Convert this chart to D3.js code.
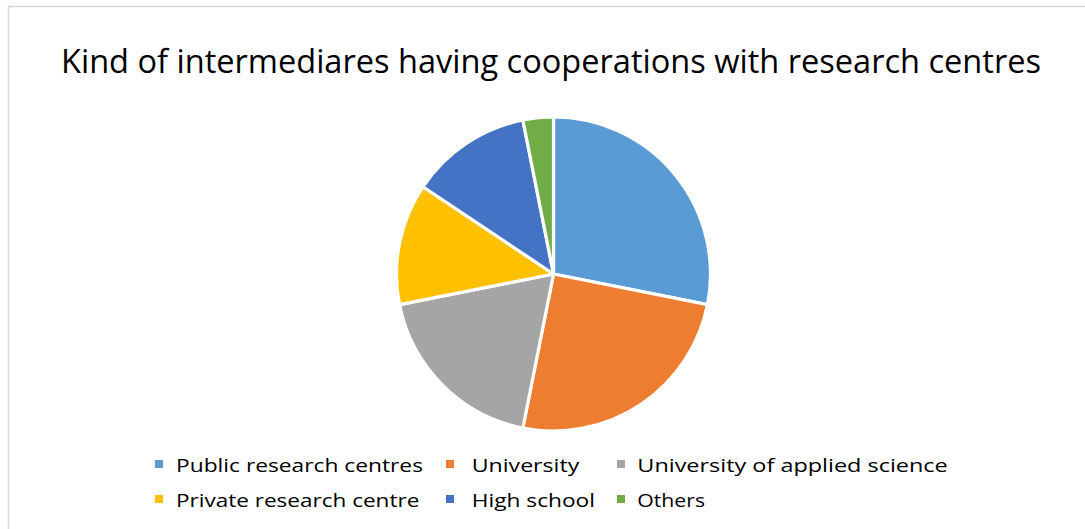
<!DOCTYPE html>
<html>
<head>
<meta charset="utf-8">
<script src="https://cdn.jsdelivr.net/npm/d3@7"></script>
<style>
  html, body { margin: 0; padding: 0; background: #ffffff; }
  svg { display: block; }
  text { font-family: "Open Sans", "Noto Sans", sans-serif; fill: #000000; }
</style>
</head>
<body>
<svg id="chart" width="1085" height="529"></svg>
<script>
// Chart data
const title = "Kind of intermediares having cooperations with research centres";
const categories = [
  "Public research centres",
  "University",
  "University of applied science",
  "Private research centre",
  "High school",
  "Others"
];
const counts = [9, 8, 6, 4, 4, 1];
const colors = ["#5B9BD5", "#ED7D31", "#A5A5A5", "#FFC000", "#4472C4", "#70AD47"];

const width = 1085, height = 529;
const svg = d3.select("#chart");

// Chart area frame (only top and left edges fall inside the view)
svg.append("rect")
  .attr("x", 8.5).attr("y", 6.5)
  .attr("width", 1200).attr("height", 700)
  .attr("fill", "#ffffff")
  .attr("stroke", "#d9d9d9")
  .attr("stroke-width", 1.5);

// Title
svg.append("text")
  .attr("x", 61).attr("y", 73)
  .attr("font-size", 32)
  .attr("textLength", 980)
  .attr("lengthAdjust", "spacingAndGlyphs")
  .text(title);

// Pie
const cx = 553.5, cy = 274, radius = 157;
const color = d3.scaleOrdinal().domain(categories).range(colors);
const pie = d3.pie().sort(null).value(d => d.value);
const arc = d3.arc().innerRadius(0).outerRadius(radius);
const rows = categories.map((c, i) => ({ name: c, value: counts[i] }));

svg.append("g")
  .attr("transform", `translate(${cx},${cy})`)
  .selectAll("path")
  .data(pie(rows))
  .join("path")
  .attr("d", arc)
  .attr("fill", d => color(d.data.name))
  .attr("stroke", "#ffffff")
  .attr("stroke-width", 3.2)
  .attr("stroke-linejoin", "round");

// Legend: three columns, two rows
const colX = [155, 446, 617];
const textOffset = [21, 25.7, 20.3];
const rowY = [460, 495];
const textWidths = [247, 107.6, 310.4, 243.3, 123.3, 67.7];
const legend = svg.append("g")
  .selectAll("g")
  .data(rows)
  .join("g")
  .attr("transform", (d, i) => `translate(${colX[i % 3]},${rowY[Math.floor(i / 3)]})`);

legend.append("rect")
  .attr("width", 8).attr("height", 8)
  .attr("fill", d => color(d.name));

legend.append("text")
  .attr("x", (d, i) => textOffset[i % 3])
  .attr("y", 12)
  .attr("font-size", 18)
  .attr("textLength", (d, i) => textWidths[i])
  .attr("lengthAdjust", "spacingAndGlyphs")
  .text(d => d.name);
</script>
</body>
</html>
